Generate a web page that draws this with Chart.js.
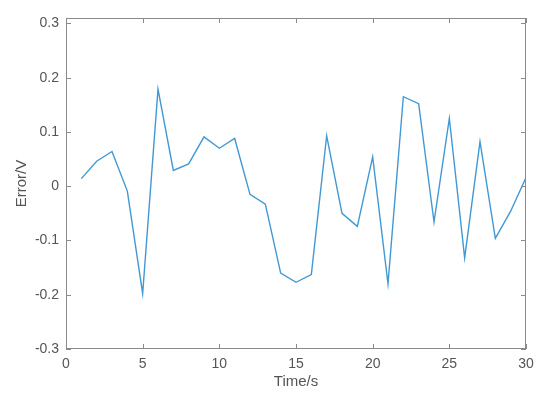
<!DOCTYPE html>
<html>
<head>
<meta charset="utf-8">
<script src="https://cdn.jsdelivr.net/npm/chart.js@4.4.0/dist/chart.umd.min.js"></script>
<style>
  html, body { margin: 0; padding: 0; background: #fff; }
  #wrap { width: 550px; height: 399px; }
</style>
</head>
<body>
<div id="wrap"><canvas id="grafico" width="550" height="399"></canvas></div>
<script>
// datos
const tiempos = [1, 2, 3, 4, 5, 6, 7, 8, 9, 10, 11, 12, 13, 14, 15, 16, 17, 18, 19, 20, 21, 22, 23, 24, 25, 26, 27, 28, 29, 30];
const errores = [0.014, 0.046, 0.064, -0.009, -0.198, 0.179, 0.029, 0.041, 0.091, 0.070, 0.088, -0.015, -0.033, -0.160, -0.177, -0.163, 0.093, -0.050, -0.074, 0.054, -0.180, 0.165, 0.152, -0.066, 0.125, -0.132, 0.082, -0.096, -0.046, 0.016];
const ticksX = [0, 5, 10, 15, 20, 25, 30];
const ticksY = [-0.3, -0.2, -0.1, 0, 0.1, 0.2, 0.3];

const colorEje = "#8a8a8a";
const colorTexto = "#555555";
const fuente = "Liberation Sans, Arial, sans-serif";

// caja estilo matlab con ticks hacia adentro
const cajaPlugin = {
  id: "caja",
  afterDraw(chart) {
    const ctx = chart.ctx;
    const a = chart.chartArea;
    const sx = chart.scales.x;
    const sy = chart.scales.y;
    ctx.save();
    ctx.strokeStyle = colorEje;
    ctx.lineWidth = 1;
    ctx.strokeRect(a.left + 0.5, a.top + 0.5, a.right - a.left - 1, a.bottom - a.top - 1);
    ctx.beginPath();
    ticksX.forEach(v => {
      const px = Math.round(sx.getPixelForValue(v)) + 0.5;
      ctx.moveTo(px, a.bottom); ctx.lineTo(px, a.bottom - 5);
      ctx.moveTo(px, a.top); ctx.lineTo(px, a.top + 5);
    });
    ticksY.forEach(v => {
      const py = Math.round(sy.getPixelForValue(v)) + 0.5;
      ctx.moveTo(a.left, py); ctx.lineTo(a.left + 5, py);
      ctx.moveTo(a.right, py); ctx.lineTo(a.right - 5, py);
    });
    ctx.stroke();
    ctx.restore();
  }
};

const ctx = document.getElementById("grafico");

new Chart(ctx, {
  type: "line",
  data: {
    labels: tiempos,
    datasets: [{
      data: tiempos.map((t, i) => ({ x: t, y: errores[i] })),
      borderColor: "#4199d4",
      borderWidth: 1.4,
      pointRadius: 0,
      tension: 0,
      fill: false
    }]
  },
  options: {
    responsive: false,
    animation: false,
    layout: { padding: { top: 18, right: 24, left: 0, bottom: 0 } },
    plugins: { legend: { display: false }, tooltip: { enabled: false } },
    scales: {
      x: {
        type: "linear",
        min: 0,
        max: 30,
        afterBuildTicks: s => { s.ticks = ticksX.map(v => ({ value: v })); },
        afterFit: s => { s.height = 50; },
        grid: { display: false, drawTicks: false },
        border: { display: false },
        ticks: {
          padding: 7,
          color: colorTexto,
          font: { family: fuente, size: 14 },
          maxRotation: 0
        },
        title: {
          display: true,
          text: "Time/s",
          color: colorTexto,
          font: { family: fuente, size: 15 },
          padding: { top: 0, bottom: 8 }
        }
      },
      y: {
        type: "linear",
        min: -0.3,
        max: 0.31,
        afterBuildTicks: s => { s.ticks = ticksY.map(v => ({ value: v })); },
        afterFit: s => { s.width = 66; },
        grid: { display: false, drawTicks: false },
        border: { display: false },
        ticks: {
          padding: 7,
          color: colorTexto,
          font: { family: fuente, size: 14 },
          callback: v => (Math.abs(v) < 1e-9 ? "0" : String(Math.round(v * 10) / 10))
        },
        title: {
          display: true,
          text: "Error/V",
          color: colorTexto,
          font: { family: fuente, size: 15 },
          padding: { top: 13, bottom: 0 }
        }
      }
    }
  },
  plugins: [cajaPlugin]
});
</script>
</body>
</html>
